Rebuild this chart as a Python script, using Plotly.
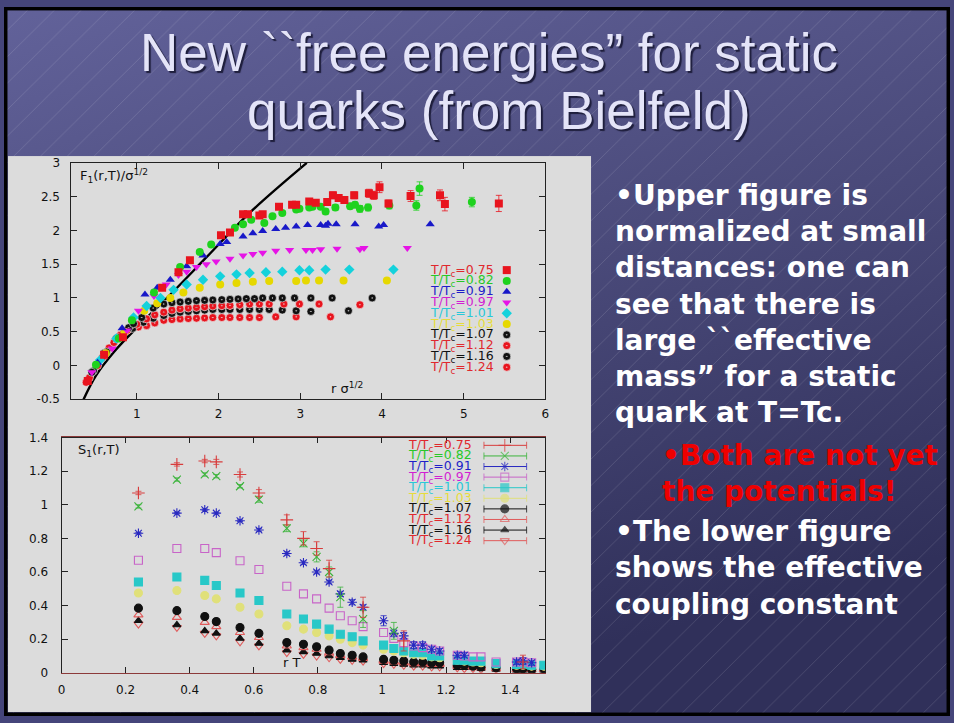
import base64
import plotly.graph_objects as go

W, H = 954, 723

# ---------------- labels ----------------
TITLE_LINES = ["New ``free energies\u201d for static", "quarks (from Bielfeld)"]
TEMPS = ["0.75", "0.82", "0.91", "0.97", "1.01", "1.03", "1.07", "1.12", "1.16", "1.24"]

TOP_XTICKS = [1, 2, 3, 4, 5, 6]
TOP_YTICKS = [-0.5, 0, 0.5, 1, 1.5, 2, 2.5, 3]
TOP_YTICKTEXT = ["-0.5", "0", "0.5", "1", "1.5", "2", "2.5", "3"]
BOT_XTICKS = [0, 0.2, 0.4, 0.6, 0.8, 1.0, 1.2, 1.4]
BOT_XTICKTEXT = ["0", "0.2", "0.4", "0.6", "0.8", "1", "1.2", "1.4"]
BOT_YTICKS = [0, 0.2, 0.4, 0.6, 0.8, 1.0, 1.2, 1.4]
BOT_YTICKTEXT = ["0", "0.2", "0.4", "0.6", "0.8", "1", "1.2", "1.4"]

# ---------------- upper panel: F1(r,T)/sigma^1/2 ----------------
LINE_X = [0.33, 0.50, 0.72, 1.05, 1.45, 1.85, 2.38, 3.08]
LINE_Y = [-0.55, -0.15, 0.20, 0.62, 1.10, 1.60, 2.26, 3.00]

F075_X = [0.40, 0.60, 0.83, 1.31, 1.51, 1.65, 2.03, 2.14, 2.30, 2.36, 2.50, 2.54, 2.74, 2.90, 2.95,
          3.11, 3.19, 3.33, 3.40, 3.47, 3.54, 3.66, 3.84, 3.90, 3.97, 4.08, 4.35, 4.71, 4.77, 5.43]
F075_Y = [-0.23, 0.16, 0.42, 1.15, 1.38, 1.56, 1.93, 1.97, 2.24, 2.24, 2.22, 2.24, 2.35, 2.38, 2.38,
          2.43, 2.41, 2.42, 2.52, 2.48, 2.45, 2.52, 2.55, 2.52, 2.64, 2.40, 2.51, 2.52, 2.39, 2.40]
F075_E = [0, 0, 0, 0, 0, 0, 0, 0, 0.02, 0.02, 0.02, 0.02, 0.03, 0.03, 0.03,
          0.03, 0.04, 0.04, 0.05, 0.04, 0.05, 0.05, 0.06, 0.06, 0.08, 0.05, 0.08, 0.08, 0.1, 0.12]

F082_X = [0.50, 0.78, 0.94, 1.21, 1.53, 1.77, 1.91, 2.20, 2.30, 2.40, 2.56, 2.66, 2.78, 2.95, 2.99,
          3.11, 3.15, 3.25, 3.31, 3.43, 3.61, 3.67, 3.73, 3.83, 4.09, 4.42, 4.46, 5.10]
F082_Y = [0.01, 0.40, 0.67, 1.08, 1.46, 1.68, 1.79, 2.04, 2.09, 2.16, 2.11, 2.21, 2.26, 2.31, 2.32,
          2.34, 2.35, 2.35, 2.28, 2.34, 2.36, 2.38, 2.32, 2.34, 2.37, 2.37, 2.62, 2.42]
F082_E = [0, 0, 0, 0, 0, 0, 0, 0.02, 0.02, 0.02, 0.02, 0.02, 0.03, 0.03, 0.03,
          0.03, 0.03, 0.03, 0.04, 0.04, 0.04, 0.04, 0.05, 0.05, 0.05, 0.07, 0.1, 0.07]

F091_X = [0.52, 0.82, 1.10, 1.25, 1.41, 1.61, 1.81, 2.02, 2.10, 2.30, 2.42, 2.54, 2.70, 2.82, 2.95,
          3.09, 3.25, 3.31, 3.34, 3.44, 3.67, 3.96, 4.02, 4.59]
F091_Y = [0.04, 0.55, 1.05, 1.15, 1.27, 1.47, 1.63, 1.80, 1.83, 1.91, 1.96, 1.99, 2.02, 2.04, 2.06,
          2.08, 2.08, 2.07, 2.10, 2.09, 2.09, 2.06, 2.08, 2.09]

F097_X = [0.45, 0.70, 0.88, 1.02, 1.21, 1.36, 1.51, 1.61, 1.73, 1.85, 1.97, 2.14, 2.30, 2.42, 2.54,
          2.70, 2.87, 3.07, 3.15, 3.25, 3.45, 3.73, 3.78, 4.31]
F097_Y = [-0.10, 0.25, 0.52, 0.81, 1.03, 1.20, 1.34, 1.39, 1.46, 1.50, 1.54, 1.58, 1.63, 1.65, 1.67,
          1.70, 1.71, 1.71, 1.71, 1.72, 1.73, 1.72, 1.74, 1.74]

F101_X = [0.55, 0.75, 0.96, 1.12, 1.29, 1.45, 1.61, 1.81, 2.02, 2.22, 2.38, 2.58, 2.78, 2.99, 3.11,
          3.31, 3.60, 4.14]
F101_Y = [0.08, 0.40, 0.71, 0.88, 1.00, 1.12, 1.20, 1.27, 1.32, 1.35, 1.37, 1.38, 1.39, 1.41, 1.41,
          1.42, 1.42, 1.42]

F103_X = [0.62, 0.85, 1.09, 1.25, 1.41, 1.57, 1.77, 2.02, 2.22, 2.42, 2.62, 2.95, 3.07, 3.23, 3.53, 4.06]
F103_Y = [0.18, 0.50, 0.81, 0.92, 1.00, 1.08, 1.15, 1.20, 1.22, 1.24, 1.25, 1.25, 1.26, 1.26, 1.26, 1.26]

F107_X = [0.45, 0.60, 0.75, 0.90, 0.96, 1.06, 1.20, 1.33, 1.43, 1.53, 1.63, 1.73, 1.83, 1.93, 2.04,
          2.14, 2.24, 2.34, 2.44, 2.54, 2.66, 2.78, 2.93, 3.13, 3.39, 3.88]
F107_Y = [-0.10, 0.18, 0.40, 0.56, 0.62, 0.71, 0.85, 0.91, 0.93, 0.94, 0.95, 0.96, 0.965, 0.97, 0.975,
          0.98, 0.985, 0.99, 0.99, 1.0, 1.0, 1.0, 1.0, 1.0, 1.0, 1.0]

F112_X = [0.42, 0.58, 0.72, 0.88, 1.00, 1.12, 1.22, 1.33, 1.43, 1.53, 1.63, 1.73, 1.83, 1.93, 2.04,
          2.14, 2.26, 2.38, 2.50, 2.62, 2.80, 2.99, 3.23, 3.73]
F112_Y = [-0.18, 0.12, 0.34, 0.52, 0.61, 0.69, 0.75, 0.79, 0.82, 0.84, 0.85, 0.86, 0.87, 0.88, 0.885,
          0.89, 0.90, 0.91, 0.91, 0.91, 0.91, 0.91, 0.91, 0.90]

F116_X = [0.47, 0.63, 0.80, 0.95, 1.08, 1.20, 1.33, 1.43, 1.53, 1.63, 1.73, 1.83, 1.93, 2.04, 2.14,
          2.26, 2.38, 2.50, 2.62, 2.78, 2.95, 3.13, 3.59]
F116_Y = [-0.08, 0.20, 0.42, 0.55, 0.64, 0.70, 0.74, 0.77, 0.79, 0.80, 0.81, 0.82, 0.83, 0.83, 0.83,
          0.83, 0.83, 0.83, 0.83, 0.82, 0.81, 0.80, 0.81]

F124_X = [0.38, 0.52, 0.66, 0.80, 0.92, 1.02, 1.12, 1.22, 1.33, 1.43, 1.53, 1.63, 1.73, 1.83, 1.93,
          2.04, 2.14, 2.26, 2.38, 2.50, 2.70, 2.95, 3.37]
F124_Y = [-0.25, 0.00, 0.26, 0.45, 0.55, 0.57, 0.59, 0.63, 0.67, 0.68, 0.69, 0.695, 0.70, 0.705, 0.71,
          0.71, 0.71, 0.71, 0.71, 0.71, 0.72, 0.72, 0.72]

# ---------------- lower panel: S1(r,T) vs rT ----------------
RT = [0.24, 0.36, 0.447, 0.483, 0.557, 0.616, 0.703, 0.755, 0.796, 0.835, 0.87, 0.907, 0.941,
      1.005, 1.037, 1.068, 1.099, 1.127, 1.155, 1.18, 1.235, 1.257, 1.284, 1.309, 1.356, 1.42,
      1.44, 1.467, 1.505]
N = None
S075 = [1.07, 1.24, 1.26, 1.255, 1.18, 1.07, 0.91, 0.80, 0.74, 0.62, N, N, 0.39,
        N, N, 0.19, N, N, N, N, N, N, N, N, N, N, 0.065, N, N]
S075_E = [0.01, 0.01, 0.01, 0.015, 0.015, 0.02, 0.03, 0.04, 0.04, 0.05, 0, 0, 0.06,
          0, 0, 0.06, 0, 0, 0, 0, 0, 0, 0, 0, 0, 0, 0.04, 0, 0]
S082 = [0.99, 1.15, 1.18, 1.17, 1.11, 1.03, 0.86, 0.77, 0.69, 0.60, 0.45, N, 0.32,
        N, 0.25, N, N, N, N, N, N, N, N, N, N, N, N, N, N]
S082_E = [0.01, 0.01, 0.01, 0.01, 0.01, 0.015, 0.02, 0.02, 0.03, 0.03, 0.06, 0, 0.05,
          0, 0.05, 0, 0, 0, 0, 0, 0, 0, 0, 0, 0, 0, 0, 0, 0]
S091 = [0.83, 0.95, 0.97, 0.95, 0.905, 0.85, 0.71, 0.655, 0.60, 0.54, 0.47, 0.42, 0.39,
        0.31, 0.235, 0.22, 0.165, 0.165, 0.14, 0.13, 0.105, 0.105, N, N, N, 0.065, 0.07, 0.06, N]
S091_E = [0.005, 0.005, 0.005, 0.005, 0.005, 0.008, 0.01, 0.01, 0.01, 0.01, 0.015, 0.015, 0.015,
          0.03, 0.02, 0.02, 0.02, 0.02, 0.015, 0.015, 0.015, 0.015, 0, 0, 0, 0.015, 0.02, 0.015, 0]
S097 = [0.67, 0.74, 0.74, 0.715, 0.667, 0.615, 0.515, 0.47, 0.44, 0.385, 0.34, 0.31, 0.275,
        0.24, 0.205, 0.18, 0.16, 0.15, 0.14, 0.13, 0.105, 0.10, 0.095, 0.095, 0.065, 0.065, 0.065, 0.06, N]
S101 = [0.54, 0.57, 0.55, 0.52, 0.475, 0.43, 0.35, 0.32, 0.29, 0.26, 0.23, 0.215, 0.19,
        0.165, 0.145, 0.13, 0.12, 0.12, 0.10, 0.10, 0.075, 0.075, 0.07, 0.07, 0.055, 0.05, 0.05, 0.045, 0.045]
S103 = [0.475, 0.49, 0.46, 0.44, 0.39, 0.35, 0.28, 0.26, 0.24, 0.22, 0.20, 0.18, 0.165,
        0.14, 0.13, 0.12, 0.11, 0.105, 0.095, 0.09, 0.075, 0.07, 0.065, 0.06, 0.05, 0.045, 0.045, 0.04, 0.04]
S107 = [0.385, 0.37, 0.335, 0.305, 0.27, 0.235, 0.18, 0.17, 0.155, 0.135, 0.115, 0.105, 0.095,
        0.08, 0.075, 0.07, 0.065, 0.065, 0.06, 0.06, 0.045, 0.045, 0.04, 0.035, 0.03, 0.025, 0.025, 0.02, 0.025]
S112 = [0.345, 0.33, 0.30, 0.275, 0.24, 0.21, 0.16, 0.15, 0.14, 0.12, 0.105, 0.095, 0.085,
        0.07, 0.065, 0.06, 0.055, 0.055, 0.05, 0.05, 0.04, 0.04, 0.035, 0.03, 0.025, 0.02, 0.02, 0.02, 0.02]
S116 = [0.31, 0.285, 0.25, 0.235, 0.205, 0.175, 0.135, 0.125, 0.115, 0.10, 0.09, 0.08, 0.075,
        0.06, 0.055, 0.05, 0.045, 0.045, 0.04, 0.04, 0.03, 0.03, 0.03, 0.025, 0.02, 0.015, 0.015, 0.015, 0.015]
S124 = [0.29, 0.27, 0.235, 0.22, 0.185, 0.16, 0.12, 0.11, 0.10, 0.09, 0.08, 0.075, 0.07,
        0.055, 0.05, 0.045, 0.04, 0.04, 0.035, 0.035, 0.03, 0.025, 0.025, 0.02, 0.02, 0.015, 0.015, 0.01, 0.01]

# ---------------- slide text ----------------
WHITE_LINES = ["\u2022Upper figure is", "normalized at small", "distances: one can",
               "see that there is", "large ``effective", "mass\u201d for a static",
               "quark at T=Tc."]
RED_LINES = ["\u2022Both are not yet", "the potentials!"]
WHITE_LINES_2 = ["\u2022The lower figure", "shows the effective", "coupling constant"]

# ---------------- styles ----------------
TOP_COLORS = ["#e8141e", "#1ed21e", "#1818c8", "#e614e6", "#14d2dc", "#e6d800",
              "#111111", "#e8141e", "#111111", "#e8141e"]
TOP_SYMBOLS = ["square", "circle", "triangle-up", "triangle-down", "diamond", "circle",
               "circle-dot", "circle-dot", "circle-dot", "circle-dot"]
TOP_SIZES = [8, 8, 8, 8, 8, 8, 8, 8, 8, 8]
TXT_COLORS = ["#e0282d", "#28c828", "#1e1ec8", "#d21ed2", "#28c8d8", "#e6dc3c",
              "#111111", "#e0282d", "#111111", "#e0282d"]
BOT_COLORS = ["#d83c3c", "#3cb43c", "#2828c0", "#c864c8", "#28c8c8", "#e0e07a",
              "#111111", "#e05a5a", "#111111", "#e05a5a"]
BOT_SYMBOLS = ["cross-thin-open", "x-thin-open", "asterisk-open", "square-open", "square",
               "circle", "circle", "triangle-up-open", "triangle-up", "triangle-down-open"]
BOT_SIZES = [9, 8, 8, 8, 8, 8, 8, 8, 7, 8]

TICK_FONT = dict(family="DejaVu Sans", size=12, color="#111111")

# slide background: gradient, diagonal hairlines, grey figure panel and black frame
svg = f"""<svg xmlns='http://www.w3.org/2000/svg' width='{W}' height='{H}'>
<defs>
<linearGradient id='g' x1='0' y1='0' x2='0.35' y2='1'>
<stop offset='0' stop-color='#62629a'/><stop offset='0.5' stop-color='#4a4a7a'/>
<stop offset='1' stop-color='#30305a'/></linearGradient>
<pattern id='p' width='27' height='27' patternUnits='userSpaceOnUse'>
<path d='M-2,29 L29,-2' stroke='#ffffff' stroke-opacity='0.16' stroke-width='0.8'/></pattern>
</defs>
<rect width='{W}' height='{H}' fill='url(#g)'/>
<rect width='{W}' height='{H}' fill='url(#p)'/>
<rect x='4' y='152' width='588' height='567' fill='#dcdcdc'/>
<rect x='1.5' y='1.5' width='{W-3}' height='{H-3}' fill='none' stroke='#000' stroke-width='4'/>
</svg>"""
bg_uri = "data:image/svg+xml;base64," + base64.b64encode(svg.encode()).decode()

fig = go.Figure()

# upper panel traces
fig.add_trace(go.Scatter(x=LINE_X, y=LINE_Y, mode="lines", line=dict(color="#000", width=2.4, shape="spline"),
                         xaxis="x", yaxis="y", showlegend=False, hoverinfo="skip"))
top_x = [F075_X, F082_X, F091_X, F097_X, F101_X, F103_X, F107_X, F112_X, F116_X, F124_X]
top_y = [F075_Y, F082_Y, F091_Y, F097_Y, F101_Y, F103_Y, F107_Y, F112_Y, F116_Y, F124_Y]
top_e = [F075_E, F082_E, None, None, None, None, None, None, None, None]
order = [9, 8, 7, 6, 5, 4, 3, 2, 1, 0]
for i in order:
    err = None
    if top_e[i] is not None:
        err = dict(type="data", array=top_e[i], color=TOP_COLORS[i], thickness=0.8, width=3)
    lw = 0.8 if TOP_SYMBOLS[i] == "circle-dot" else 0
    fig.add_trace(go.Scatter(
        x=top_x[i], y=top_y[i], mode="markers", xaxis="x", yaxis="y", showlegend=False,
        error_y=err,
        marker=dict(symbol=TOP_SYMBOLS[i], size=TOP_SIZES[i], color=TOP_COLORS[i],
                    line=dict(color="rgba(235,235,235,0.8)", width=lw))))

# lower panel traces
bot_y = [S075, S082, S091, S097, S101, S103, S107, S112, S116, S124]
bot_e = [S075_E, S082_E, S091_E, None, None, None, None, None, None, None]
for i in order:
    err = None
    if bot_e[i] is not None:
        err = dict(type="data", array=bot_e[i], color=BOT_COLORS[i], thickness=0.8, width=3)
    fig.add_trace(go.Scatter(
        x=RT, y=bot_y[i], mode="markers", xaxis="x2", yaxis="y2", showlegend=False,
        error_y=err,
        marker=dict(symbol=BOT_SYMBOLS[i], size=BOT_SIZES[i], color=BOT_COLORS[i],
                    line=dict(color=BOT_COLORS[i], width=1.1))))

# legend keys (pixel-space overlay axes)
annotations = []
for i, t in enumerate(TEMPS):
    ty = 268.3 + 11.0 * i
    fig.add_trace(go.Scatter(x=[507], y=[ty], mode="markers", xaxis="x3", yaxis="y3", showlegend=False,
                             marker=dict(symbol=TOP_SYMBOLS[i], size=8, color=TOP_COLORS[i],
                                         line=dict(color="rgba(235,235,235,0.8)",
                                                   width=0.8 if TOP_SYMBOLS[i] == "circle-dot" else 0))))
    annotations.append(dict(x=496, y=ty, xref="x3", yref="y3", xanchor="right", yanchor="middle",
                            text=f"T/T<sub>c</sub>={t}", showarrow=False,
                            font=dict(family="DejaVu Sans", size=12.5, color=TXT_COLORS[i])))
    by = 447.0 + 10.8 * i
    fig.add_trace(go.Scatter(x=[484, 505, 527], y=[by, by, by], mode="lines+markers", xaxis="x3", yaxis="y3",
                             showlegend=False, line=dict(color=BOT_COLORS[i], width=1),
                             marker=dict(symbol=["line-ns-open", BOT_SYMBOLS[i], "line-ns-open"],
                                         size=[5, BOT_SIZES[i], 5], color=BOT_COLORS[i],
                                         line=dict(color=BOT_COLORS[i], width=1.1))))
    annotations.append(dict(x=474, y=by, xref="x3", yref="y3", xanchor="right", yanchor="middle",
                            text=f"T/T<sub>c</sub>={t}", showarrow=False,
                            font=dict(family="DejaVu Sans", size=12.5, color=TXT_COLORS[i])))

# axis captions
annotations += [
    dict(x=75, y=172, xref="x3", yref="y3", xanchor="left", yanchor="middle", showarrow=False,
         text="F<sub>1</sub>(r,T)/\u03c3<sup>1/2</sup>", font=dict(family="DejaVu Sans", size=13, color="#111")),
    dict(x=346, y=389, xref="x3", yref="y3", xanchor="center", yanchor="middle", showarrow=False,
         text="r \u03c3<sup>1/2</sup>", font=dict(family="DejaVu Sans", size=13, color="#111")),
    dict(x=73, y=452, xref="x3", yref="y3", xanchor="left", yanchor="middle", showarrow=False,
         text="S<sub>1</sub>(r,T)", font=dict(family="DejaVu Sans", size=13, color="#111")),
    dict(x=290, y=668, xref="x3", yref="y3", xanchor="center", yanchor="middle", showarrow=False,
         text="r T", font=dict(family="DejaVu Sans", size=13, color="#111")),
]

# slide title
title_font = dict(family="Liberation Sans", size=53, color="#e4e4f8", shadow="2px 2px 1px #1e1e3c")
annotations.append(dict(x=489, y=46, xref="x3", yref="y3", xanchor="center", yanchor="middle",
                        showarrow=False, text=TITLE_LINES[0], font=title_font))
annotations.append(dict(x=499, y=106, xref="x3", yref="y3", xanchor="center", yanchor="middle",
                        showarrow=False, text=TITLE_LINES[1], font=title_font))

# right-hand text block
body_font = dict(family="DejaVu Sans", size=28, color="#ffffff", weight="bold")
ys = [192, 229, 266, 303, 340, 377, 414]
for s, yy in zip(WHITE_LINES, ys):
    annotations.append(dict(x=614, y=yy, xref="x3", yref="y3", xanchor="left", yanchor="middle",
                            showarrow=False, text=s, font=body_font))
for s, yy in zip(RED_LINES, [457, 494]):
    annotations.append(dict(x=662, y=yy, xref="x3", yref="y3", xanchor="left", yanchor="middle",
                            showarrow=False, text=s, font=dict(body_font, color="#ee0000")))
for s, yy in zip(WHITE_LINES_2, [535, 572, 609]):
    annotations.append(dict(x=614, y=yy, xref="x3", yref="y3", xanchor="left", yanchor="middle",
                            showarrow=False, text=s, font=body_font))

frame = dict(showline=True, linecolor="#222", linewidth=1, mirror="ticks", ticks="inside",
             ticklen=6, tickcolor="#222", showgrid=False, zeroline=False, tickfont=TICK_FONT)

fig.update_layout(
    width=W, height=H, margin=dict(l=0, r=0, t=0, b=0),
    paper_bgcolor="#45457a", plot_bgcolor="rgba(0,0,0,0)",
    images=[dict(source=bg_uri, xref="paper", yref="paper", x=0, y=1, sizex=1, sizey=1,
                 xanchor="left", yanchor="top", sizing="stretch", layer="below")],
    xaxis=dict(frame, domain=[68 / W, 546 / W], range=[0.2, 6], tickvals=TOP_XTICKS, anchor="y",
               ticklabelstandoff=3),
    yaxis=dict(frame, domain=[1 - 400 / H, 1 - 159 / H], range=[-0.5, 3], tickvals=TOP_YTICKS,
               ticktext=TOP_YTICKTEXT, anchor="x", ticklabelstandoff=8),
    xaxis2=dict(frame, domain=[58 / W, 546 / W], range=[0, 1.51], tickvals=BOT_XTICKS,
                ticktext=BOT_XTICKTEXT, anchor="y2", linecolor="#8c3a3a", ticklabelstandoff=6),
    yaxis2=dict(frame, domain=[1 - 679 / H, 1 - 439 / H], range=[0, 1.4], tickvals=BOT_YTICKS,
                ticktext=BOT_YTICKTEXT, anchor="x2", ticklabelstandoff=10),
    xaxis3=dict(domain=[0, 1], range=[0, W], visible=False, anchor="y3", fixedrange=True),
    yaxis3=dict(domain=[0, 1], range=[H, 0], visible=False, anchor="x3", fixedrange=True),
    annotations=annotations,
    shapes=[dict(type="line", xref="x2 domain", yref="y2 domain", x0=0, x1=1, y0=1, y1=1,
                 line=dict(color="#222", width=1), layer="above")],
    showlegend=False,
)

fig.write_html("out.html")
